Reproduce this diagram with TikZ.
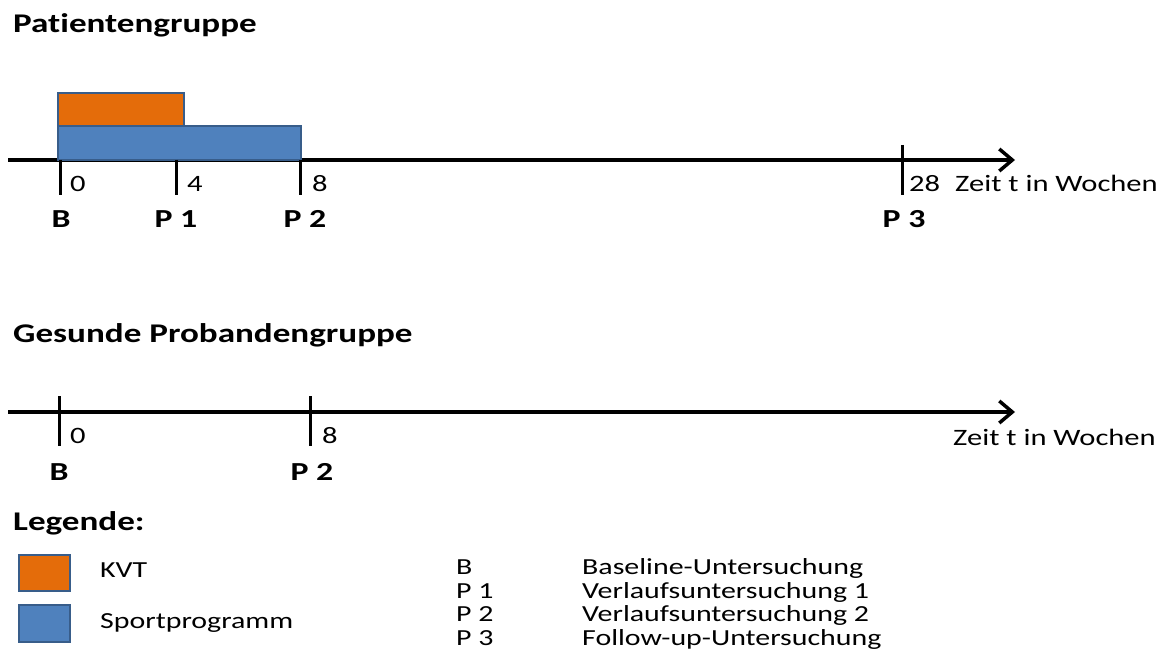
\documentclass[tikz,border=0pt]{standalone}
\usepackage{fontspec}
\setmainfont{Carlito}[FakeStretch=1.3,Ligatures={NoCommon}]
\usepackage{xcolor}
\usetikzlibrary{arrows.meta}

\definecolor{kvtorange}{HTML}{E46C0A}
\definecolor{sportblue}{HTML}{4F81BD}
\definecolor{barline}{HTML}{385D8A}

\tikzset{
  axisline/.style={line width=3.5pt,-{Straight Barb[length=13pt,width=22pt]}},
  tickline/.style={line width=3pt},
  bar/.style={draw=barline,line width=2pt},
  head/.style={anchor=base west,inner sep=0pt,font=\fontsize{27}{30}\selectfont\bfseries},
  num/.style={anchor=base west,inner sep=0pt,font=\fontsize{23.5}{26}\selectfont},
  timept/.style={anchor=base,inner sep=0pt,font=\fontsize{26}{29}\selectfont\bfseries},
  legtext/.style={anchor=base west,inner sep=0pt,font=\fontsize{23}{26}\selectfont}
}

\begin{document}
\begin{tikzpicture}[x=1pt,y=-1pt]
            \useasboundingbox (0,0) rectangle (1169,671);
            % Patientengruppe
            \node (headp) at (13,33) [head] {Patientengruppe};
            \coordinate (pstart) at (8,160);
            \coordinate (pend) at (1015,160);
            \draw[axisline] (pstart) -- (pend);
            \node (kvtbar) at (121,109.5) [bar,fill=kvtorange,minimum width=126pt,minimum height=33pt,inner sep=0pt] {};
            \node (sportbar) at (179.5,143) [bar,fill=sportblue,minimum width=243pt,minimum height=34pt,inner sep=0pt] {};
            \coordinate (pt0) at (60,160);
            \coordinate (pt0b) at (60,195);
            \coordinate (pt4) at (176,160);
            \coordinate (pt4b) at (176,195);
            \coordinate (pt8) at (300,160);
            \coordinate (pt8b) at (300,195);
            \coordinate (pt28) at (902,145);
            \coordinate (pt28b) at (902,195);
            \draw[tickline] (pt0) -- (pt0b) (pt4) -- (pt4b) (pt8) -- (pt8b) (pt28) -- (pt28b);
            \node (pn0) at (70,191) [num] {0};
            \node (pn4) at (187,191) [num] {4};
            \node (pn8) at (312,191) [num] {8};
            \node (pn28) at (909,191) [num] {28};
            \node (pzeit) at (955,192) [num] {Zeit t in Wochen};
            \node (pb) at (61,227) [timept] {B};
            \node (pp1) at (176,227) [timept] {P 1};
            \node (pp2) at (305,227) [timept] {P 2};
            \node (pp3) at (904,227) [timept] {P 3};
            % Gesunde Probandengruppe
            \node (headg) at (13,342) [head] {Gesunde Probandengruppe};
            \coordinate (gstart) at (8,412);
            \coordinate (gend) at (1015,412);
            \draw[axisline] (gstart) -- (gend);
            \coordinate (gt0) at (59,396);
            \coordinate (gt0b) at (59,446);
            \coordinate (gt8) at (310,396);
            \coordinate (gt8b) at (310,446);
            \draw[tickline] (gt0) -- (gt0b) (gt8) -- (gt8b);
            \node (gn0) at (70,443) [num] {0};
            \node (gn8) at (322,443) [num] {8};
            \node (gzeit) at (953,445) [num] {Zeit t in Wochen};
            \node (gb) at (59,480) [timept] {B};
            \node (gp2) at (312,480) [timept] {P 2};
            % Legende
            \node (headl) at (13,530) [head] {Legende:};
            \node (legkvt) at (44.5,573) [bar,fill=kvtorange,minimum width=51pt,minimum height=36pt,inner sep=0pt] {};
            \node (legsport) at (44.5,623.5) [bar,fill=sportblue,minimum width=51pt,minimum height=37pt,inner sep=0pt] {};
            \node (txtkvt) at (100,577) [legtext] {KVT};
            \node (txtsport) at (100,628) [legtext] {Sportprogramm};
            \node (keyb) at (456,574) [legtext] {B};
            \node (keyp1) at (456,598) [legtext] {P 1};
            \node (keyp2) at (456,621) [legtext] {P 2};
            \node (keyp3) at (456,645) [legtext] {P 3};
            \node (descb) at (582,574) [legtext] {Baseline-Untersuchung};
            \node (descp1) at (582,598) [legtext] {Verlaufsuntersuchung 1};
            \node (descp2) at (582,621) [legtext] {Verlaufsuntersuchung 2};
            \node (descp3) at (582,645) [legtext] {Follow-up-Untersuchung};
        \end{tikzpicture}
\end{document}
